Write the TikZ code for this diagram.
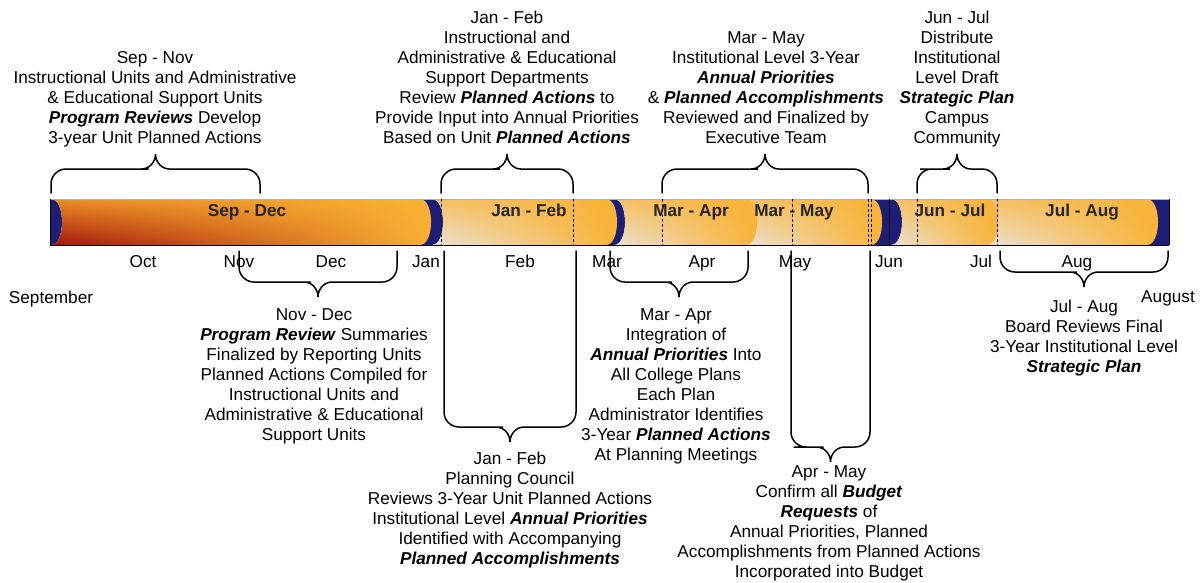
\documentclass[tikz,border=0pt]{standalone}
\usepackage{fontspec}
\setmainfont{Liberation Sans}
\usetikzlibrary{shadings}

\definecolor{barorange}{HTML}{F9B233}
\definecolor{barbeige}{HTML}{E9E2D6}
\definecolor{barred}{HTML}{A3140A}
\definecolor{barredtop}{HTML}{EC8E26}
\definecolor{capnavy}{HTML}{1E1E78}
\definecolor{capgray}{HTML}{C8C8D2}

\newcommand{\bfit}[1]{\textbf{\textit{#1}}}

% 时间条的几种形状 (上沿 y=199, 下沿 y=245)
\newcommand{\segconcave}[2]{(#1,199) -- (#2,199) .. controls +(14.7,0) and +(14.7,0) .. (#2,245) -- (#1,245) .. controls +(14.7,0) and +(14.7,0) .. (#1,199) -- cycle}
\newcommand{\segflat}[2]{(#1,199) -- (#2,199) .. controls +(14.7,0) and +(14.7,0) .. (#2,245) -- (#1,245) -- cycle}
\newcommand{\segcap}[2]{(#2,199) -- (#1,199) .. controls +(14.7,0) and +(14.7,0) .. (#1,245) -- (#2,245) -- cycle}

% 花括号: 左端 x, 右端 x, 腿端 y, 横线 y, 尖端 y
\newcommand{\curlybrace}[5]{%
  \pgfmathsetmacro\bmid{(#1+#2)/2}
  \pgfmathsetmacro\bctl{#5-0.55*(#5-#4)}
  \draw[bracepath] (#1,#3) [rounded corners=15pt] -- (#1,#4) -- (\bmid-22,#4) [sharp corners] -- (\bmid-14,#4)
    .. controls (\bmid-6.3,#4) and (\bmid,\bctl) .. (\bmid,#5)
    .. controls (\bmid,\bctl) and (\bmid+6.3,#4) .. (\bmid+14,#4) -- (\bmid+22,#4)
    [rounded corners=15pt] -- (#2,#4) -- (#2,#3);
}

\tikzset{
  txt/.style={align=center, inner sep=0pt, anchor=north},
  capshade/.style={top color=capnavy, middle color=capgray, bottom color=capnavy},
  lightseg/.style={lower left=barbeige, upper left=barorange!70!barbeige, upper right=barorange, lower right=barorange},
  bracepath/.style={line width=1.5pt, line cap=round},
}

\begin{document}
\begin{tikzpicture}[x=1pt, y=-1pt, every node/.style={font=\fontsize{17.2}{20}\selectfont}]
    \useasboundingbox (0,0) rectangle (1202,582);

    % --- 时间条: 先画蓝色端盖, 再从右往左画各段 ---
    \shade[capshade] \segcap{51}{50};
    \shade[capshade] \segcap{432}{421};
    \shade[capshade] \segcap{614}{603};
    \shade[capshade] \segcap{891}{871};
    \shade[capshade] (1147,199) rectangle (1169,245);

    \shade[lightseg] \segflat{985}{1147};
    \shade[lightseg] \segconcave{891}{987};
    \shade[lightseg] \segflat{744}{871};
    \shade[lightseg] \segconcave{614}{746};
    \shade[lightseg] \segconcave{432}{606};
    \shade[upper left=barredtop, lower left=barred, upper right=barorange, lower right=barorange] \segconcave{51}{420};

    % 边框
    \draw[gray!60, line width=0.8pt] (50,199) -- (1169,199);
    \draw[line width=0.8pt] (50,245) -- (1169,245);
    \draw[line width=0.8pt] (50,199) -- (50,245);
    \draw[line width=0.8pt] (1169,199) -- (1169,245);
    \draw[line width=0.9pt] (889,199) -- (889,245);

    % 分隔虚线
    \foreach \x in {441,573,662,792,868,871,917,997}
        \draw[dashed, dash pattern=on 3pt off 2pt, line width=0.9pt] (\x,199) -- (\x,245);

    % 各段名称
    \foreach \x/\t/\n in {247/Sep - Dec/sd, 529/Jan - Feb/jf, 691/Mar - Apr/ma, 794/Mar - May/mm, 950/Jun - Jul/jj, 1082/Jul - Aug/ja}
        \node[anchor=base, font=\fontsize{17.2}{20}\selectfont\bfseries, text=black!85] (bar\n) at (\x,216) {\t};

    % --- 月份 ---
    \foreach \x/\m in {143/Oct, 239/Nov, 331/Dec, 426/Jan, 520/Feb, 607/Mar, 702/Apr, 795/May, 889/Jun, 981/Jul, 1077/Aug}
        \node[anchor=base] (m\m) at (\x,267) {\m};
    \node[anchor=base] (msep) at (51,303) {September};
    \node[anchor=base] (maug) at (1168,302) {August};

    % --- 花括号 (上方) ---
    \curlybrace{51}{260}{193}{169}{154}
    \curlybrace{441}{573}{193}{169}{154}
    \curlybrace{662}{868}{193}{169}{154}
    \curlybrace{917}{997}{193}{169}{154}

    % --- 花括号 (下方) ---
    \curlybrace{239}{397}{251}{282}{297}
    \curlybrace{444}{576}{251}{427}{442}
    \curlybrace{610}{748}{251}{282}{297}
    \curlybrace{791}{870}{251}{447}{462}
    \curlybrace{1000}{1168}{251}{272}{287}

    % --- 上方说明 ---
    \node[txt] (sepnov) at (155,51) {Sep - Nov\\Instructional Units and Administrative\\\& Educational Support Units\\\bfit{Program Reviews} Develop\\3-year Unit Planned Actions};
    \node[txt] (janfebup) at (507,11) {Jan - Feb\\Instructional and\\Administrative \& Educational\\Support Departments\\Review \bfit{Planned Actions} to\\Provide Input into Annual Priorities\\Based on Unit \bfit{Planned Actions}};
    \node[txt] (marmay) at (766,31) {Mar - May\\Institutional Level 3-Year\\\bfit{Annual Priorities}\\\& \bfit{Planned Accomplishments}\\Reviewed and Finalized by\\Executive Team};
    \node[txt] (junjul) at (957,11) {Jun - Jul\\Distribute\\Institutional\\Level Draft\\\bfit{Strategic Plan}\\Campus\\Community};

    % --- 下方说明 ---
    \node[txt] (novdec) at (314,308) {Nov - Dec\\\bfit{Program Review} Summaries\\Finalized by Reporting Units\\Planned Actions Compiled for\\Instructional Units and\\Administrative \& Educational\\Support Units};
    \node[txt] (janfebdown) at (510,452) {Jan - Feb\\Planning Council\\Reviews 3-Year Unit Planned Actions\\Institutional Level \bfit{Annual Priorities}\\Identified with Accompanying\\\bfit{Planned Accomplishments}};
    \node[txt] (marapr) at (676,308) {Mar - Apr\\Integration of\\\bfit{Annual Priorities} Into\\All College Plans\\Each Plan\\Administrator Identifies\\3-Year \bfit{Planned Actions}\\At Planning Meetings};
    \node[txt] (aprmay) at (829,465) {Apr - May\\Confirm all \bfit{Budget}\\\bfit{Requests} of\\Annual Priorities, Planned\\Accomplishments from Planned Actions\\Incorporated into Budget};
    \node[txt] (julaug) at (1084,300) {Jul - Aug\\Board Reviews Final\\3-Year Institutional Level\\\bfit{Strategic Plan}};

\end{tikzpicture}
\end{document}
